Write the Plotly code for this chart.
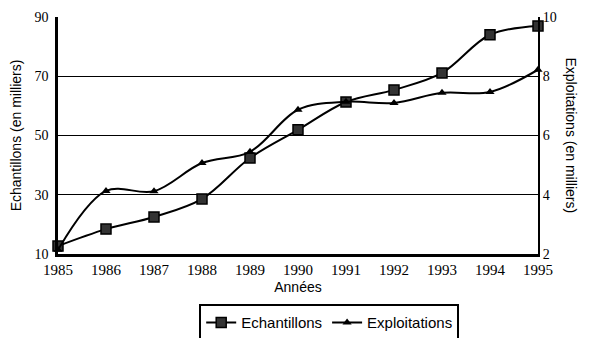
import plotly.graph_objects as go

# Years and the two series (thousands)
annees = [1985, 1986, 1987, 1988, 1989, 1990, 1991, 1992, 1993, 1994, 1995]
echantillons = [12.7, 18.4, 22.5, 28.6, 42.4, 51.9, 61.3, 65.4, 71.1, 84.0, 87.0]
exploitations = [2.14, 4.13, 4.12, 5.07, 5.45, 6.87, 7.14, 7.10, 7.44, 7.47, 8.22]

left_ticks = [10, 30, 50, 70, 90]
right_ticks = [2, 4, 6, 8, 10]

serif = "Liberation Serif"
sans = "Liberation Sans"

fig = go.Figure()
fig.add_trace(go.Scatter(
    x=annees, y=echantillons, name="Echantillons",
    mode="lines+markers", cliponaxis=False,
    line=dict(color="black", width=2, shape="spline", smoothing=1.0),
    marker=dict(symbol="square", size=10, color="#333",
                line=dict(color="black", width=1.5)),
))
fig.add_trace(go.Scatter(
    x=annees, y=exploitations, name="Exploitations", yaxis="y2",
    mode="lines+markers", cliponaxis=False,
    line=dict(color="black", width=2, shape="spline", smoothing=1.0),
    marker=dict(symbol="triangle-up", size=8, color="black"),
))

fig.update_layout(
    width=599, height=338,
    margin=dict(l=58, r=61, t=17, b=84, autoexpand=False),
    paper_bgcolor="white", plot_bgcolor="white",
    showlegend=True,
    legend=dict(
        orientation="h", x=0.565, xanchor="center",
        yref="container", y=0.10, yanchor="top",
        bordercolor="black", borderwidth=2,
        font=dict(family=sans, size=15, color="black"),
        itemwidth=30, tracegroupgap=0,
    ),
    xaxis=dict(
        range=[1985, 1995], tickvals=annees, ticktext=[str(a) for a in annees],
        showline=True, linecolor="black", linewidth=2.5,
        showgrid=False, zeroline=False, ticks="",
        tickfont=dict(family=serif, size=15, color="black"),
        title=dict(text="Années", font=dict(family=sans, size=14, color="black"),
                   standoff=6),
    ),
    yaxis=dict(
        range=[10, 90], tickvals=left_ticks,
        showline=True, linecolor="black", linewidth=2.5,
        showgrid=True, gridcolor="black", gridwidth=1, zeroline=False,
        ticks="", ticklabelstandoff=4,
        tickfont=dict(family=serif, size=14, color="black"),
        title=dict(text="Echantillons (en milliers)",
                   font=dict(family=sans, size=14, color="black"), standoff=10),
    ),
    yaxis2=dict(
        range=[2, 10], tickvals=right_ticks, overlaying="y", side="right",
        showline=True, linecolor="black", linewidth=2,
        showgrid=False, zeroline=False, ticks="",
        tickfont=dict(family=serif, size=14, color="black"),
    ),
    annotations=[dict(
        text="Exploitations (en milliers)", textangle=90,
        xref="paper", yref="paper", x=1.0, y=0.5, xanchor="center",
        xshift=33, showarrow=False,
        font=dict(family=sans, size=14, color="black"),
    )],
)

fig.write_html("out.html")
